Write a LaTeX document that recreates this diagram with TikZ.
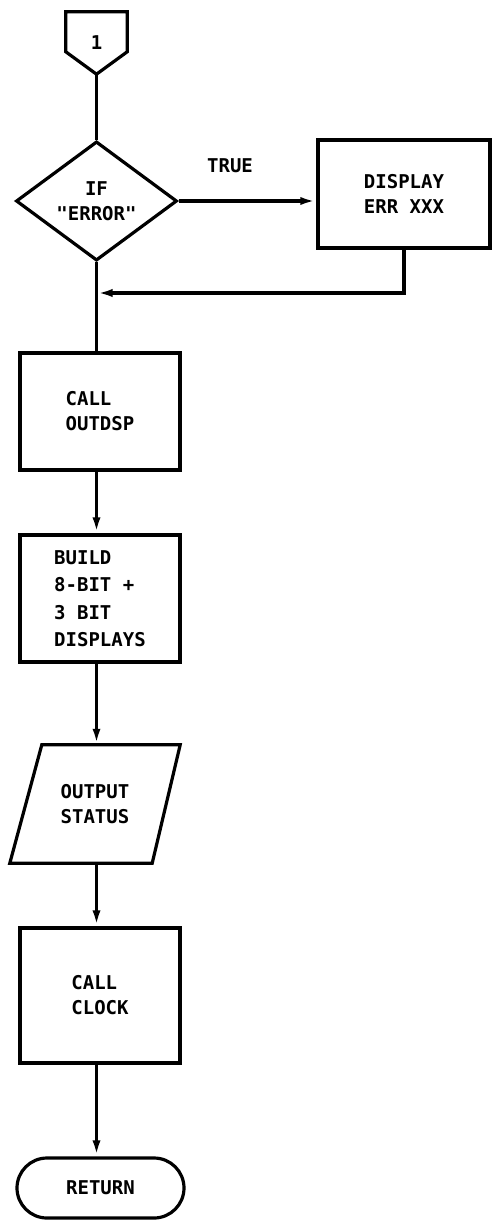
\documentclass[tikz,border=0pt]{standalone}
\usepackage{fontspec}
\setmonofont{DejaVu Sans Mono}
\usetikzlibrary{shapes.geometric,arrows.meta}
\begin{document}
\begin{tikzpicture}[x=1pt,y=-1pt,
  every node/.style={font=\ttfamily\bfseries\fontsize{19}{25}\selectfont},
  conline/.style={line width=3.2pt},
  arr/.style={conline, -{Latex[length=16pt,width=8pt]}},
  box/.style={draw, line width=3.2pt, inner sep=0pt, align=left}]
\useasboundingbox (0,0) rectangle (495,1229);
% off-page connector
\node[inner sep=0pt, minimum width=61pt, minimum height=62pt] (conn) at (96.5,43) {1};
\draw[conline, line join=miter] (conn.north west) -- (conn.north east)
  -- ([yshift=-40pt]conn.north east) -- (conn.south)
  -- ([yshift=-40pt]conn.north west) -- cycle;
% decision
\node[diamond, draw, line width=3.2pt, minimum width=161pt, minimum height=102pt,
  inner sep=0pt, align=center] (dia) at (96.5,201) {IF\\"ERROR"};
\node[box, align=center, minimum width=172pt, minimum height=108pt] (err) at (404,194) {DISPLAY\\ERR XXX};
\node (true) at (230,166) {TRUE};
\coordinate (join) at (96.5,293);
% process boxes
\node[box, minimum width=160pt, minimum height=117pt] (outdsp) at (100,411.5) {CALL\\OUTDSP};
\node[box, minimum width=160pt, minimum height=127pt, font=\ttfamily\bfseries\fontsize{19}{27.5}\selectfont] (build) at (100,598.5) {BUILD\\8-BIT +\\3 BIT\\DISPLAYS};
% input/output parallelogram
\node[inner sep=0pt, minimum width=170pt, minimum height=118pt, align=left] (par) at (95,804) {OUTPUT\\STATUS};
\draw[conline, line join=miter] ([xshift=32pt]par.north west) -- (par.north east)
  -- ([xshift=-28pt]par.south east) -- (par.south west) -- cycle;
\node[box, minimum width=160pt, minimum height=135pt] (clock) at (100,995.5) {CALL\\CLOCK};
\node[draw, line width=3.2pt, rounded corners=30pt, minimum width=167pt, minimum height=60pt, inner sep=0pt] (ret) at (100.5,1188) {RETURN};
% connectors
\draw[conline] (conn.south) -- (dia.north);
\draw[arr] (dia.east) -- (dia.east -| err.west);
\draw[arr] (err.south) |- (join);
\draw[conline] (dia.south) -- (outdsp.north -| dia.south);
\draw[arr] (outdsp.south -| dia.south) -- (build.north -| dia.south);
\draw[arr] (build.south -| dia.south) -- (par.north -| dia.south);
\draw[arr] (par.south -| dia.south) -- (clock.north -| dia.south);
\draw[arr] (clock.south -| dia.south) -- (ret.north -| dia.south);
\end{tikzpicture}
\end{document}
